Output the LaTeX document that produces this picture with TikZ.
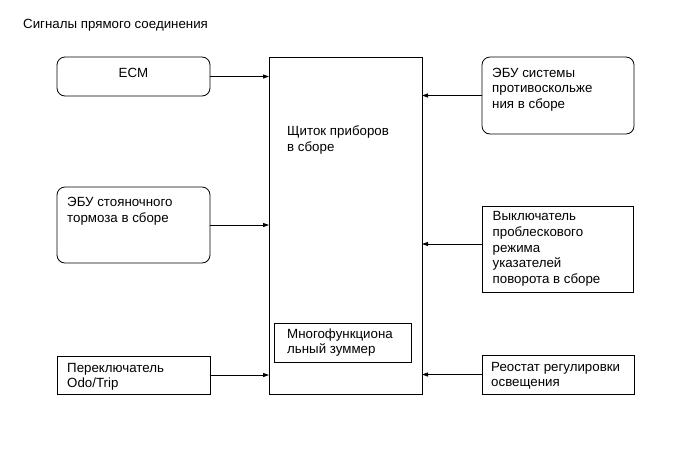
\documentclass[tikz,border=0pt]{standalone}
\usepackage{fontspec}
\setmainfont{Liberation Sans}
\usetikzlibrary{arrows.meta,calc}
\newcommand{\txtlines}[1]{\begin{tabular}[t]{@{}l@{}}#1\end{tabular}}
\begin{document}
\begin{tikzpicture}[x=1pt,y=-1pt,
  box/.style={draw=black,line width=0.8pt,inner sep=0pt,outer sep=0pt,anchor=north west},
  rbox/.style={box,rounded corners=8pt},
  txt/.style={inner sep=0pt,anchor=base west,font=\fontsize{13.3pt}{15.8pt}\selectfont},
  arr/.style={draw=black,line width=0.8pt,-{Triangle[length=6pt,width=4pt]}}]
\useasboundingbox (0,0) rectangle (687,467);
\node[txt] (title) at (23,28) {Сигналы прямого соединения};
% main box
\node[box,minimum width=153,minimum height=337] (main) at (269,57) {};
\node[txt] (maintxt) at ($(main.north west)+(18,78.5)$) {\txtlines{Щиток приборов\\в сборе}};
\node[box,minimum width=137,minimum height=39] (buzz) at (274,323) {};
\node[txt] (buzztxt) at ($(buzz.north west)+(13,15)$) {\txtlines{Многофункциона\\льный зуммер}};
% left boxes
\node[rbox,minimum width=153,minimum height=39] (ecm) at (57,57) {};
\node[txt,anchor=base] (ecmtxt) at ($(ecm.north)+(0,20.3)$) {ECM};
\node[rbox,minimum width=153,minimum height=76] (park) at (57,187) {};
\node[txt] (parktxt) at ($(park.north west)+(10,19.5)$) {\txtlines{ЭБУ стояночного\\тормоза в сборе}};
\node[box,minimum width=153,minimum height=38] (odo) at (57,356) {};
\node[txt] (odotxt) at ($(odo.north west)+(10,16)$) {\txtlines{Переключатель\\Odo/Trip}};
% right boxes
\node[rbox,minimum width=152,minimum height=77] (abs) at (482,57) {};
\node[txt] (abstxt) at ($(abs.north west)+(10,20)$) {\txtlines{ЭБУ системы\\противоскольже\\ния в сборе}};
\node[box,minimum width=151,minimum height=86] (turn) at (482,206) {};
\node[txt] (turntxt) at ($(turn.north west)+(10.5,14.5)$) {\txtlines{Выключатель\\проблескового\\режима\\указателей\\поворота в сборе}};
\node[box,minimum width=152,minimum height=39] (rheo) at (482,355) {};
\node[txt] (rheotxt) at ($(rheo.north west)+(9,16)$) {\txtlines{Реостат регулировки\\освещения}};
% connectors
\draw[arr] (ecm.east) -- (main.west |- ecm.east);
\draw[arr] (park.east) -- (main.west |- park.east);
\draw[arr] (odo.east) -- (main.west |- odo.east);
\draw[arr] (abs.west) -- (main.east |- abs.west);
\coordinate (turnout) at ($(turn.west)+(0,-5)$);
\draw[arr] (turnout) -- (main.east |- turnout);
\draw[arr] (rheo.west) -- (main.east |- rheo.west);
\end{tikzpicture}
\end{document}
